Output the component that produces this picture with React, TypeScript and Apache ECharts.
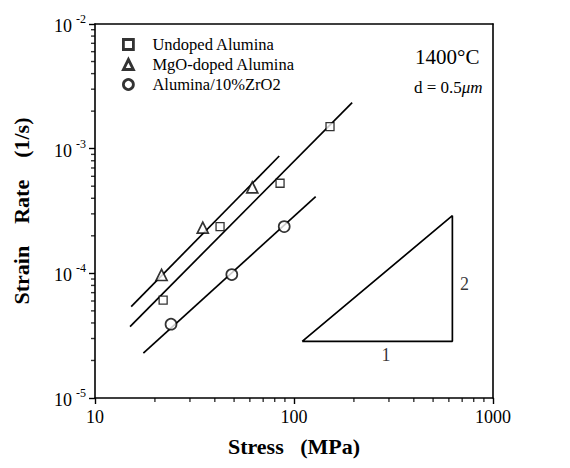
import React, { useEffect, useRef } from 'react';
import * as echarts from 'echarts';

// Measured data (stress in MPa, strain rate in 1/s)
const undopedStress = [22.0, 42.5, 85.1, 151.7];
const undopedRate = [6.1e-5, 2.37e-4, 5.28e-4, 1.5e-3];
const mgoStress = [21.6, 34.8, 61.7];
const mgoRate = [9.7e-5, 2.33e-4, 4.9e-4];
const zro2Stress = [24.1, 48.7, 89.3];
const zro2Rate = [3.91e-5, 9.77e-5, 2.37e-4];

// Fit lines
const undopedFitStress = [15.0, 196];
const undopedFitRate = [3.74e-5, 2.34e-3];
const mgoFitStress = [15.2, 84.3];
const mgoFitRate = [5.41e-5, 8.73e-4];
const zro2FitStress = [17.5, 128.5];
const zro2FitRate = [2.29e-5, 4.12e-4];

// Slope indicator triangle
const slopeStress = [110, 625, 625, 110];
const slopeRate = [2.85e-5, 2.85e-5, 2.9e-4, 2.85e-5];
const slopeLabelText = ['1', '2'];
const slopeLabelStress = [290, 720];
const slopeLabelRate = [2.2e-5, 8.2e-5];

const seriesNames = ['Undoped Alumina', 'MgO-doped Alumina', 'Alumina/10%ZrO2'];
const xTickLabels = ['10', '100', '1000'];

const SERIF = '"Liberation Serif", "Times New Roman", serif';
const TICK = '#000';

const zip = (a: number[], b: number[]) => a.map((v, i) => [v, b[i]]);

export default function App() {
  const ref = useRef<HTMLDivElement>(null);
  useEffect(() => {
    if (!ref.current) return;
    document.body.style.margin = '0';
    const chart = echarts.init(ref.current, undefined, { renderer: 'svg' });

    // minor tick positions (axis decoration, 2..9 per decade)
    const minorX: number[][] = [];
    [10, 100].forEach((d) => {
      for (let k = 2; k <= 9; k++) minorX.push([d * k, 1e-5]);
    });
    const minorY: number[][] = [];
    [1e-5, 1e-4, 1e-3].forEach((d) => {
      for (let k = 2; k <= 9; k++) minorY.push([10, d * k]);
    });

    const hollow = (w: number) => ({ color: '#fff', borderColor: '#000', borderWidth: w });
    const fitLine = (name: string, xs: number[], ys: number[]) => ({
      type: 'line',
      name,
      data: zip(xs, ys),
      symbol: 'none',
      lineStyle: { color: '#000', width: 1.7 },
      z: 2,
    });
    const frameAxis = (pos: string) => ({
      type: 'log',
      position: pos,
      axisLine: { show: true, onZero: false, lineStyle: { color: '#000', width: 1.6 } },
      axisTick: { show: false },
      axisLabel: { show: false },
      splitLine: { show: false },
    });

    chart.setOption({
      animation: false,
      grid: { left: 95, right: 77, top: 24, bottom: 70 },
      legend: {
        data: seriesNames,
        orient: 'vertical',
        left: 117,
        top: 31,
        itemWidth: 10,
        itemHeight: 10,
        itemGap: 3,
        selectedMode: false,
        itemStyle: { borderWidth: 2.8 },
        textStyle: { fontFamily: SERIF, fontSize: 16.5, color: '#000', padding: [0, 0, 0, 14] },
      },
      xAxis: [
        {
          type: 'log',
          min: 10,
          max: 1000,
          position: 'bottom',
          name: 'Stress   (MPa)',
          nameLocation: 'middle',
          nameGap: 37,
          nameTextStyle: { fontFamily: SERIF, fontSize: 22, fontWeight: 'bold', color: '#000' },
          axisLine: { show: true, onZero: false, lineStyle: { color: '#000', width: 1.6 } },
          axisTick: { show: true, length: 6, lineStyle: { color: TICK, width: 1.4 } },
          axisLabel: {
            margin: 10,
            fontFamily: SERIF,
            fontSize: 18,
            color: '#000',
            formatter: (v: number) => xTickLabels[Math.round(Math.log10(v)) - 1] ?? String(v),
          },
          splitLine: { show: false },
        },
        { ...frameAxis('top'), min: 10, max: 1000 },
      ],
      yAxis: [
        {
          type: 'log',
          min: 1e-5,
          max: 1e-2,
          position: 'left',
          name: 'Strain    Rate    (1/s)',
          nameLocation: 'middle',
          nameGap: 63,
          nameTextStyle: { fontFamily: SERIF, fontSize: 22, fontWeight: 'bold', color: '#000' },
          axisLine: { show: true, onZero: false, lineStyle: { color: '#000', width: 1.6 } },
          axisTick: { show: true, length: 6, lineStyle: { color: TICK, width: 1.4 } },
          axisLabel: {
            margin: 9,
            formatter: (v: number) => `{b|10}{s|${Math.round(Math.log10(v))}}`,
            rich: {
              b: { fontFamily: SERIF, fontSize: 18, color: '#000', lineHeight: 22, verticalAlign: 'bottom' },
              s: { fontFamily: SERIF, fontSize: 12, color: '#000', lineHeight: 22, verticalAlign: 'top', padding: [0, 0, 0, 4] },
            },
          },
          splitLine: { show: false },
        },
        { ...frameAxis('right'), min: 1e-5, max: 1e-2 },
      ],
      graphic: [
        {
          type: 'text',
          left: 415,
          top: 46,
          style: { text: '1400°C', fontFamily: SERIF, fontSize: 21, fill: '#000' },
        },
        {
          type: 'text',
          left: 414,
          top: 79,
          style: {
            text: '{n|d = 0.5}{i|μm}',
            rich: {
              n: { fontFamily: SERIF, fontSize: 17, color: '#000' },
              i: { fontFamily: SERIF, fontSize: 17, fontStyle: 'italic', color: '#000' },
            },
          },
        },
      ],
      series: [
        {
          type: 'scatter',
          name: seriesNames[0],
          data: zip(undopedStress, undopedRate),
          symbol: 'rect',
          symbolSize: 8,
          itemStyle: hollow(1.3),
          z: 5,
        },
        {
          type: 'scatter',
          name: seriesNames[1],
          data: zip(mgoStress, mgoRate),
          symbol: 'triangle',
          symbolSize: 11,
          itemStyle: hollow(1.7),
          z: 5,
        },
        {
          type: 'scatter',
          name: seriesNames[2],
          data: zip(zro2Stress, zro2Rate),
          symbol: 'circle',
          symbolSize: 11,
          itemStyle: hollow(1.7),
          z: 5,
        },
        fitLine('fit-undoped', undopedFitStress, undopedFitRate),
        fitLine('fit-mgo', mgoFitStress, mgoFitRate),
        fitLine('fit-zro2', zro2FitStress, zro2FitRate),
        {
          type: 'line',
          name: 'slope',
          data: zip(slopeStress, slopeRate),
          symbol: 'none',
          lineStyle: { color: '#000', width: 1.7 },
        },
        {
          type: 'scatter',
          name: 'slope-labels',
          data: slopeLabelStress.map((x, i) => ({ value: [x, slopeLabelRate[i]], name: slopeLabelText[i] })),
          symbolSize: 0,
          label: {
            show: true,
            position: 'inside',
            formatter: (p: any) => p.name,
            fontFamily: SERIF,
            fontSize: 18,
            color: '#000',
          },
        },
        {
          type: 'scatter',
          name: 'minor-x',
          data: minorX,
          symbol: 'rect',
          symbolSize: [1.4, 4],
          symbolOffset: [0, 2],
          clip: false,
          silent: true,
          itemStyle: { color: TICK },
        },
        {
          type: 'scatter',
          name: 'minor-y',
          data: minorY,
          symbol: 'rect',
          symbolSize: [4, 1.4],
          symbolOffset: [-2, 0],
          clip: false,
          silent: true,
          itemStyle: { color: TICK },
        },
      ],
    });
    return () => chart.dispose();
  }, []);
  return <div ref={ref} style={{ width: 570, height: 468 }} />;
}
